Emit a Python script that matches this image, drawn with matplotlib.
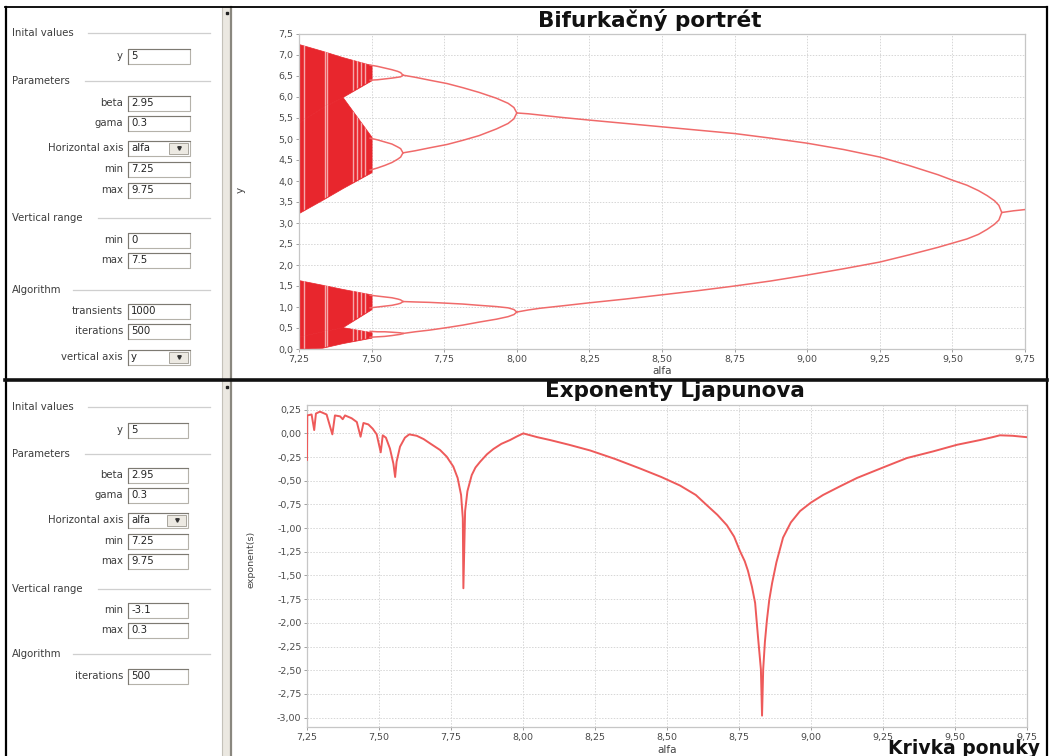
import numpy as np
import matplotlib.pyplot as plt
from matplotlib.patches import Rectangle
from matplotlib.ticker import FuncFormatter, MultipleLocator

W, H = 1051, 756

# Bifurcation portrait: branches as (alfa, y) samples
fixed_alfa = [9.67, 9.71, 9.75]
fixed_y = [3.25, 3.29, 3.32]

p2_alfa = [8.00, 8.04, 8.08, 8.16, 8.25, 8.375, 8.50, 8.625, 8.75, 8.875, 9.00,
           9.125, 9.25, 9.35, 9.45, 9.50, 9.55, 9.59, 9.62, 9.645, 9.66, 9.67]
p2_hi = [5.62, 5.60, 5.57, 5.51, 5.45, 5.37, 5.29, 5.21, 5.13, 5.02, 4.90,
         4.75, 4.57, 4.37, 4.15, 4.02, 3.90, 3.77, 3.65, 3.53, 3.42, 3.25]
p2_lo = [0.88, 0.93, 0.97, 1.03, 1.10, 1.19, 1.29, 1.39, 1.50, 1.62, 1.76,
         1.91, 2.07, 2.24, 2.42, 2.52, 2.62, 2.73, 2.85, 2.97, 3.07, 3.25]

p4_alfa = [7.608, 7.65, 7.70, 7.76, 7.815, 7.87, 7.93, 7.97, 7.99, 8.00]
p4_a_hi = [6.52, 6.47, 6.40, 6.32, 6.22, 6.11, 5.97, 5.85, 5.75, 5.62]
p4_a_lo = [4.67, 4.72, 4.79, 4.87, 4.97, 5.08, 5.24, 5.37, 5.48, 5.62]
p4_b_hi = [1.13, 1.12, 1.11, 1.09, 1.07, 1.04, 1.01, 0.98, 0.94, 0.88]
p4_b_lo = [0.37, 0.41, 0.45, 0.51, 0.57, 0.64, 0.71, 0.77, 0.82, 0.88]

p8_alfa = [7.495, 7.52, 7.545, 7.57, 7.59, 7.60, 7.608]
p8_bubbles = [
    ([6.76, 6.73, 6.69, 6.65, 6.61, 6.58, 6.52], [6.40, 6.41, 6.43, 6.45, 6.47, 6.48, 6.52]),
    ([5.02, 4.98, 4.93, 4.88, 4.81, 4.77, 4.67], [4.26, 4.31, 4.37, 4.44, 4.52, 4.57, 4.67]),
    ([1.28, 1.26, 1.24, 1.22, 1.19, 1.17, 1.13], [0.98, 1.00, 1.02, 1.04, 1.07, 1.09, 1.13]),
    ([0.42, 0.41, 0.41, 0.40, 0.39, 0.385, 0.37], [0.28, 0.29, 0.30, 0.32, 0.34, 0.35, 0.37]),
]

# Chaotic bands (envelopes)
chaos_alfa = [7.25, 7.33, 7.40, 7.50]
chaos_top_outer_hi = [7.26, 7.10, 6.95, 6.76]
chaos_top_split = [5.40, 5.75, 6.00, 6.40]
chaos_top_split_lo = [5.40, 5.75, 6.00, 5.05]
chaos_top_outer_lo = [3.24, 3.55, 3.83, 4.21]
chaos_bot_outer_hi = [1.64, 1.53, 1.43, 1.30]
chaos_bot_split = [0.30, 0.42, 0.52, 0.95]
chaos_bot_split_lo = [0.30, 0.42, 0.52, 0.40]
chaos_bot_outer_lo = [0.00, 0.03, 0.14, 0.27]

# Periodic windows inside the chaotic region
windows = [7.266, 7.340, 7.346, 7.436, 7.451, 7.465, 7.477]

# Lyapunov exponent
lyap_alfa = [7.250, 7.251, 7.266, 7.275, 7.281, 7.295, 7.318, 7.338, 7.347, 7.365,
             7.374, 7.382, 7.405, 7.423, 7.436, 7.446, 7.463, 7.478, 7.492, 7.506,
             7.513, 7.524, 7.538, 7.550, 7.556, 7.561, 7.573, 7.590, 7.605, 7.631,
             7.655, 7.677, 7.712, 7.735, 7.758, 7.773, 7.785, 7.791, 7.793, 7.799,
             7.807, 7.822, 7.835, 7.851, 7.875, 7.897, 7.925, 7.955, 7.980, 8.001,
             8.050, 8.094, 8.160, 8.233, 8.320, 8.406, 8.480, 8.545, 8.600, 8.639,
             8.675, 8.708, 8.733, 8.753, 8.770, 8.781, 8.795, 8.806, 8.816, 8.826,
             8.830, 8.834, 8.840, 8.847, 8.855, 8.865, 8.880, 8.903, 8.930, 8.962,
             9.000, 9.042, 9.100, 9.160, 9.250, 9.333, 9.424, 9.507, 9.587, 9.630,
             9.656, 9.700, 9.750]
lyap_val = [-0.28, 0.19, 0.20, 0.035, 0.21, 0.23, 0.20, -0.01, 0.19, 0.18,
            0.15, 0.19, 0.16, 0.12, -0.035, 0.11, 0.095, 0.05, -0.01, -0.20,
            -0.02, -0.045, -0.16, -0.32, -0.46, -0.30, -0.14, -0.045, -0.01, -0.025,
            -0.06, -0.105, -0.175, -0.245, -0.35, -0.47, -0.65, -0.895, -1.635, -0.82,
            -0.61, -0.44, -0.36, -0.30, -0.22, -0.165, -0.11, -0.07, -0.03, 0.0,
            -0.04, -0.07, -0.12, -0.18, -0.27, -0.37, -0.46, -0.55, -0.65, -0.76,
            -0.86, -0.97, -1.09, -1.24, -1.35, -1.45, -1.62, -1.79, -2.15, -2.49,
            -2.98, -2.49, -2.20, -1.97, -1.76, -1.58, -1.36, -1.10, -0.94, -0.82,
            -0.73, -0.65, -0.56, -0.47, -0.36, -0.26, -0.19, -0.12, -0.07, -0.04,
            -0.02, -0.025, -0.04]

# Control panels: (kind, label, row y, value / line start)
panel_top = [
    ("header", "Inital values", 33, 88),
    ("field", "y", 56, "5"),
    ("header", "Parameters", 81, 85),
    ("field", "beta", 103, "2.95"),
    ("field", "gama", 123, "0.3"),
    ("combo", "Horizontal axis", 148, "alfa"),
    ("field", "min", 169, "7.25"),
    ("field", "max", 190, "9.75"),
    ("header", "Vertical range", 218, 98),
    ("field", "min", 240, "0"),
    ("field", "max", 260, "7.5"),
    ("header", "Algorithm", 290, 73),
    ("field", "transients", 311, "1000"),
    ("field", "iterations", 331, "500"),
    ("combo", "vertical axis", 357, "y"),
]
panel_bottom = [
    ("header", "Inital values", 407, 88),
    ("field", "y", 430, "5"),
    ("header", "Parameters", 454, 85),
    ("field", "beta", 475, "2.95"),
    ("field", "gama", 495, "0.3"),
    ("combo", "Horizontal axis", 520, "alfa"),
    ("field", "min", 541, "7.25"),
    ("field", "max", 561, "9.75"),
    ("header", "Vertical range", 589, 98),
    ("field", "min", 610, "-3.1"),
    ("field", "max", 630, "0.3"),
    ("header", "Algorithm", 654, 73),
    ("field", "iterations", 676, "500"),
]

RED = "#e8262d"
LINE = "#f06a6a"
GUI_TXT = "#3c3c3c"

fig = plt.figure(figsize=(W / 100, H / 100), dpi=100)
fig.patch.set_facecolor("white")

# Canvas in pixel units for frames and panel widgets
bg = fig.add_axes([0, 0, 1, 1], zorder=0)
bg.set_xlim(0, W)
bg.set_ylim(H, 0)
bg.axis("off")


def px_axes(x0, y0, x1, y1):
    return fig.add_axes([x0 / W, 1 - y1 / H, (x1 - x0) / W, (y1 - y0) / H], zorder=2)


def draw_panel(rows, box_x0, box_x1):
    for kind, label, y, extra in rows:
        if kind == "header":
            bg.text(12, y, label, fontsize=7.3, color=GUI_TXT, va="center", ha="left")
            bg.plot([extra, 210], [y, y], color="#cfcfcf", lw=0.9)
            continue
        bg.text(123, y, label, fontsize=7.3, color=GUI_TXT, va="center", ha="right")
        h = 15
        bg.add_patch(Rectangle((box_x0, y - h / 2), box_x1 - box_x0, h,
                               fc="white", ec="#b5b2aa", lw=0.8))
        bg.plot([box_x0, box_x0, box_x1], [y + h / 2, y - h / 2, y - h / 2],
                color="#7d7a72", lw=0.8)
        bg.text(box_x0 + 3, y, extra, fontsize=7.3, color="#222222", va="center", ha="left")
        if kind == "combo":
            bx = box_x1 - 21
            bg.add_patch(Rectangle((bx, y - h / 2 + 2), 19, h - 4,
                                   fc="#ece9e2", ec="#a8a59d", lw=0.7))
            bg.plot([bx + 9.5], [y], marker="v", ms=2.5, color="#333333")


draw_panel(panel_top, 128, 190)
draw_panel(panel_bottom, 128, 188)

# Splitter bars between panels and plots
for y0, y1 in [(7, 378), (381, 756)]:
    bg.add_patch(Rectangle((222, y0), 10, y1 - y0, fc="#ebe8e1", ec="none"))
    bg.plot([222, 222], [y0, y1], color="#c4c1b9", lw=0.8)
    bg.plot([230.5, 230.5], [y0, y1], color="#8a877f", lw=1.6)
    bg.plot([227], [y0 + 6], marker="s", ms=1.6, color="#222222")

# Window frame
bg.plot([5, 1047], [7, 7], color="black", lw=1.3)
bg.plot([6, 6], [7, 756], color="black", lw=1.6)
bg.plot([1047, 1047], [7, 756], color="black", lw=1.6)
bg.plot([5, 1047], [379.5, 379.5], color="#111111", lw=2.6)


def comma_fmt(decimals):
    return FuncFormatter(lambda v, pos: f"{v:.{decimals}f}".replace(".", ","))


def style_axes(ax, ydec):
    ax.set_xlim(7.25, 9.75)
    ax.xaxis.set_major_locator(MultipleLocator(0.25))
    ax.xaxis.set_major_formatter(comma_fmt(2))
    ax.yaxis.set_major_formatter(comma_fmt(ydec))
    ax.grid(True, ls=(0, (1.5, 1.5)), color="#d6d6d6", lw=0.7)
    ax.set_axisbelow(True)
    for s in ax.spines.values():
        s.set_color("#c6c6c6")
        s.set_linewidth(0.9)
    ax.tick_params(length=2, width=0.7, color="#a0a0a0", labelsize=6.8,
                   labelcolor="#4a4a4a", pad=2)


# Bifurcation portrait
ax1 = px_axes(299, 34, 1025, 349)
style_axes(ax1, 1)
ax1.set_ylim(0, 7.5)
ax1.yaxis.set_major_locator(MultipleLocator(0.5))

bands = [
    (chaos_top_split, chaos_top_outer_hi),
    (chaos_top_outer_lo, chaos_top_split_lo),
    (chaos_bot_split, chaos_bot_outer_hi),
    (chaos_bot_outer_lo, chaos_bot_split_lo),
]
for lo, hi in bands:
    poly = ax1.fill_between(chaos_alfa, lo, hi, facecolor=RED, edgecolor=RED,
                            lw=0.5, zorder=2)
    streaks = ax1.vlines(windows, 0, 7.5, colors="white", lw=1.0, alpha=0.6, zorder=3)
    streaks.set_clip_path(poly.get_paths()[0], ax1.transData)

for hi, lo in p8_bubbles:
    ax1.plot(p8_alfa, hi, color=LINE, lw=1.1, zorder=4)
    ax1.plot(p8_alfa, lo, color=LINE, lw=1.1, zorder=4)
for branch in (p4_a_hi, p4_a_lo, p4_b_hi, p4_b_lo):
    ax1.plot(p4_alfa, branch, color=LINE, lw=1.1, zorder=4)
ax1.plot(p2_alfa, p2_hi, color=LINE, lw=1.1, zorder=4)
ax1.plot(p2_alfa, p2_lo, color=LINE, lw=1.1, zorder=4)
ax1.plot(fixed_alfa, fixed_y, color=LINE, lw=1.1, zorder=4)

ax1.set_xlabel("alfa", fontsize=7.5, color="#444444")
ax1.xaxis.set_label_coords(0.5, -0.055)
ax1.set_ylabel("y", fontsize=7.5, color="#444444")
ax1.yaxis.set_label_coords(-0.074, 0.505)

# Lyapunov exponents
ax2 = px_axes(307, 405, 1027, 727)
style_axes(ax2, 2)
ax2.set_ylim(-3.1, 0.3)
ax2.yaxis.set_major_locator(MultipleLocator(0.25))
ax2.plot(lyap_alfa, lyap_val, color="#ee5a5a", lw=1.4, zorder=4)
ax2.set_xlabel("alfa", fontsize=7.5, color="#444444")
ax2.xaxis.set_label_coords(0.5, -0.055)
ax2.set_ylabel("exponent(s)", fontsize=6.8, color="#444444")
ax2.yaxis.set_label_coords(-0.072, 0.52)

# Titles
bg.text(650, 20, "Bifurkačný portrét", fontsize=15.5, fontweight="bold",
        ha="center", va="center", color="#111111")
bg.text(675, 391, "Exponenty Ljapunova", fontsize=15.5, fontweight="bold",
        ha="center", va="center", color="#111111")
# caption sits on the bottom edge of the window, under the tick labels
bg.text(1040, 749, "Krivka ponuky", fontsize=13.5, fontweight="bold",
        ha="right", va="center", color="#111111")

fig.savefig("out.png", dpi=100)
